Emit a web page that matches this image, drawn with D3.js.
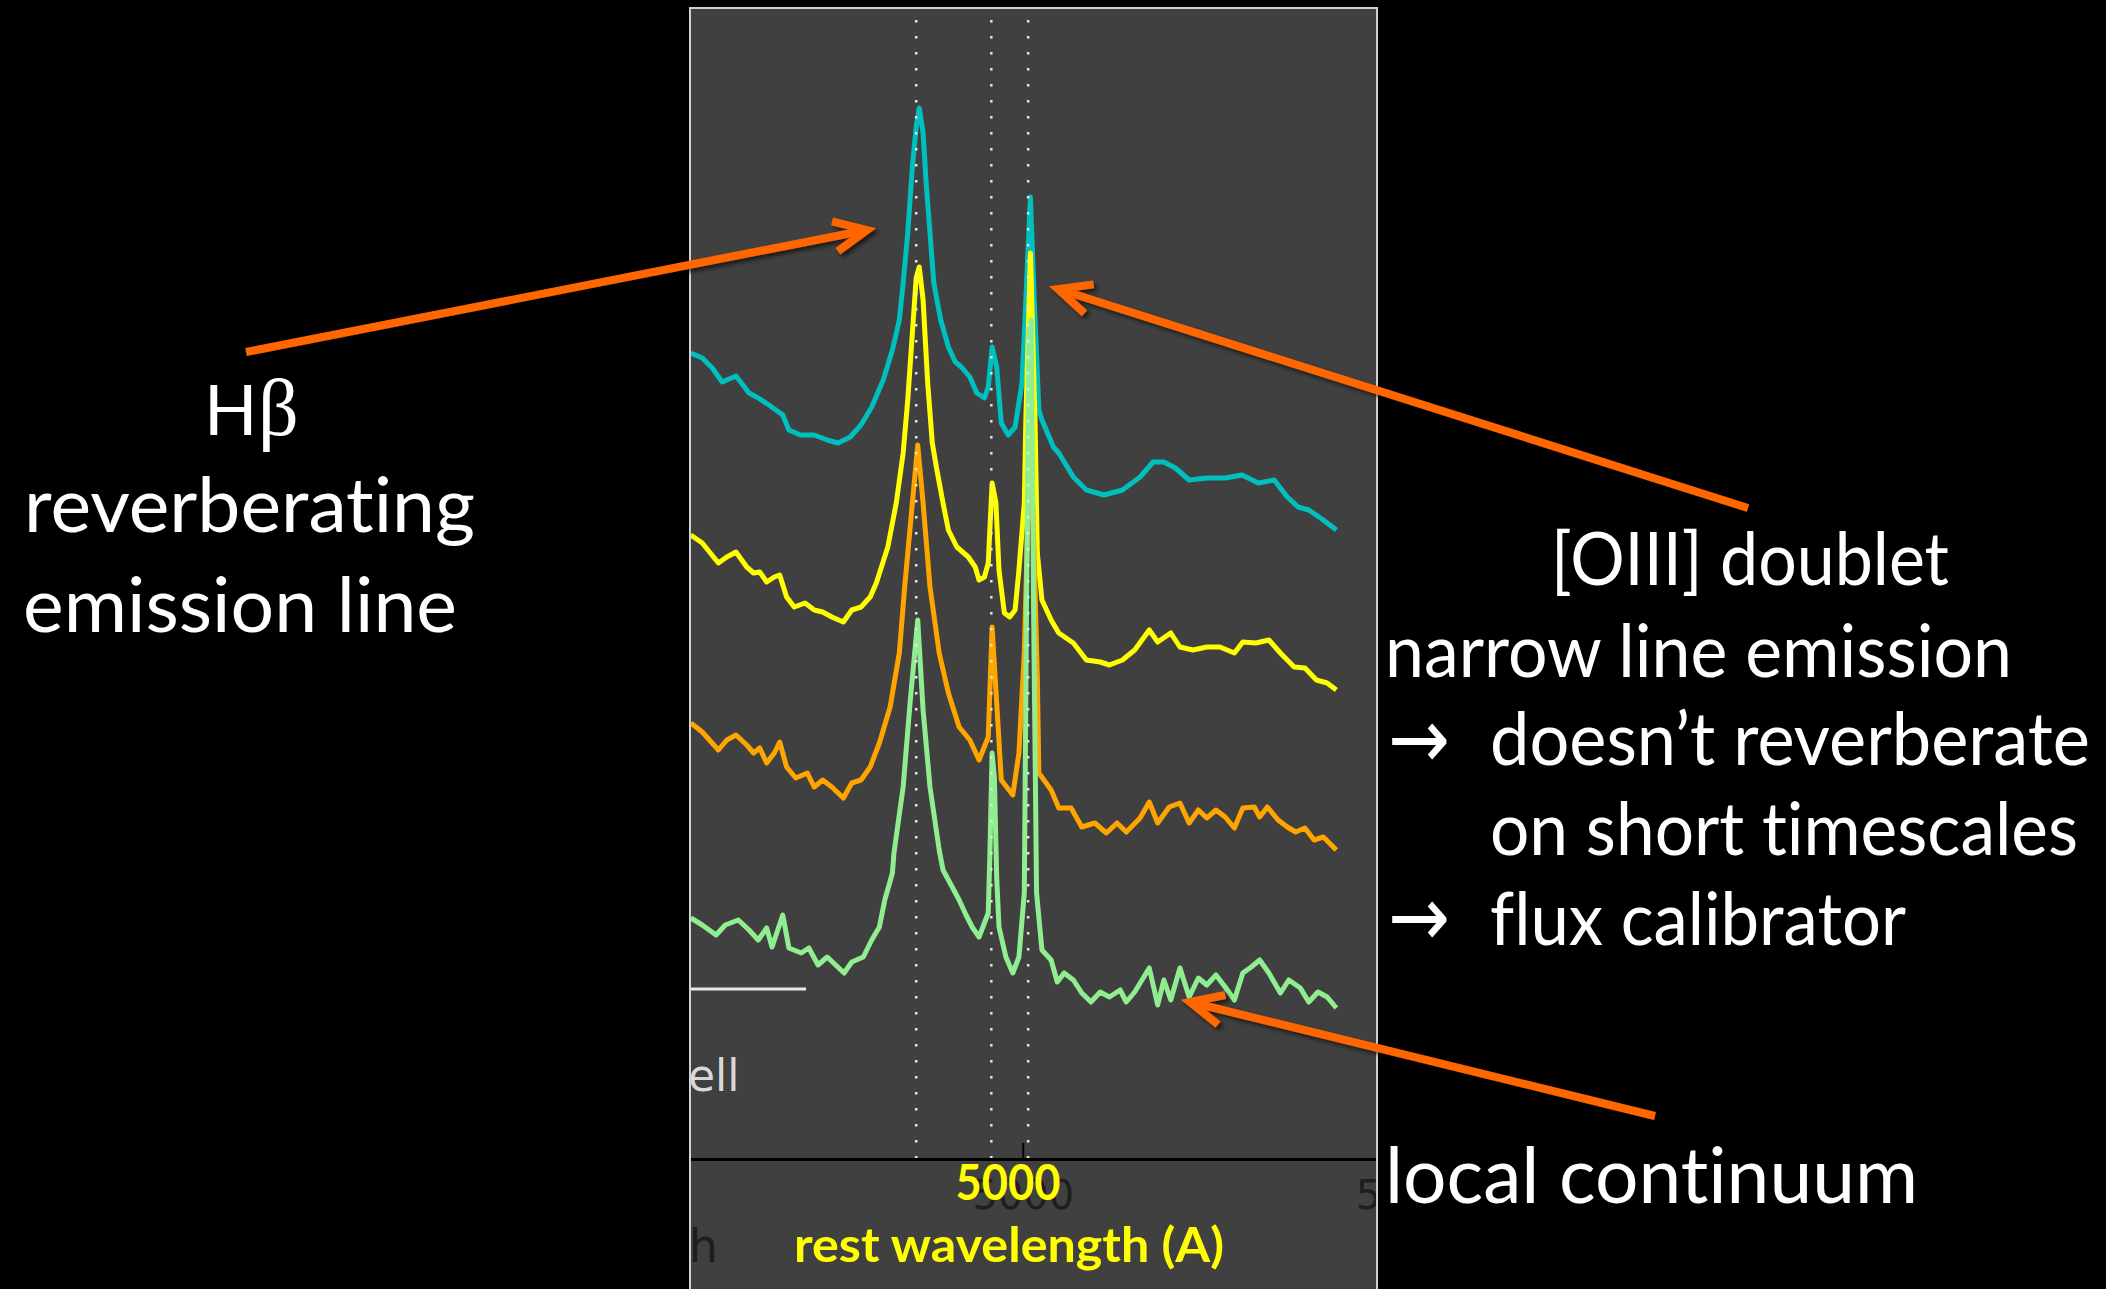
<!DOCTYPE html>
<html>
<head>
<meta charset="utf-8">
<style>
  body { margin: 0; background: #000; }
  svg { display: block; }
  text { font-variant-ligatures: none; }
</style>
</head>
<body>
<svg></svg>
<script src="https://d3js.org/d3.v7.min.js"></script>
<script>
const width = 2106, height = 1289;

// spectra: [rest wavelength (A), flux incl. vertical offset]
const cyanSpec = [
  [4567,80.5],[4582,80.0],[4595,79.0],[4608,77.6],[4626,78.2],[4643,76.5],[4655,76.0],[4669,75.3],
  [4687,74.3],[4695,72.8],[4710,72.3],[4728,72.3],[4745,71.8],[4759,71.5],[4775,72.1],[4789,73.3],
  [4803,75.1],[4818,77.8],[4830,80.8],[4839,83.8],[4844,87.5],[4850,92.5],[4856,99.1],[4861,103.1],
  [4865,105.0],[4870,102.5],[4874,97.5],[4879,92.5],[4884,87.5],[4893,83.8],[4903,81.1],[4912,79.6],
  [4920,79.1],[4931,78.1],[4940,76.5],[4950,76.0],[4955,77.1],[4960,81.1],[4966,79.1],[4972,73.5],
  [4981,72.3],[4990,73.1],[4999,77.5],[5004,85.8],[5010,96.1],[5015,85.8],[5021,74.8],[5025,73.8],
  [5040,71.1],[5047,70.5],[5066,68.1],[5083,66.8],[5106,66.3],[5130,66.8],[5153,68.1],[5170,69.6],
  [5184,69.6],[5199,69.0],[5217,67.8],[5240,68.0],[5264,68.0],[5286,68.3],[5307,67.5],[5328,67.8],
  [5345,66.1],[5359,65.1],[5373,64.8],[5392,63.8],[5409,62.8]
];
const yellowSpec = [
  [4567,62.3],[4582,61.5],[4603,59.5],[4614,60.1],[4626,60.6],[4640,59.1],[4649,58.5],[4657,58.6],
  [4666,57.6],[4676,58.1],[4683,58.3],[4692,56.1],[4702,55.1],[4716,55.5],[4728,54.8],[4739,54.6],
  [4751,54.1],[4766,53.6],[4777,54.8],[4789,55.1],[4801,56.1],[4809,57.5],[4824,61.1],[4835,65.5],
  [4844,70.5],[4850,75.8],[4856,82.5],[4861,88.0],[4865,89.1],[4870,85.8],[4876,77.5],[4882,71.5],
  [4888,68.8],[4896,65.5],[4903,62.8],[4914,61.1],[4929,60.1],[4938,59.1],[4943,57.8],[4950,58.1],
  [4955,59.5],[4960,67.5],[4965,65.5],[4969,58.8],[4976,54.5],[4983,54.1],[4990,54.8],[4995,58.8],
  [5002,65.5],[5004,73.8],[5010,90.5],[5016,73.8],[5019,60.5],[5025,55.8],[5037,53.8],[5047,52.5],
  [5066,51.5],[5083,49.8],[5101,49.6],[5113,49.3],[5130,49.8],[5146,50.8],[5165,52.8],[5176,51.6],
  [5193,52.5],[5205,51.1],[5222,50.8],[5240,51.1],[5257,51.1],[5276,50.5],[5287,51.6],[5304,51.5],
  [5321,51.8],[5336,50.5],[5354,49.1],[5368,49.0],[5383,47.8],[5397,47.5],[5409,46.8]
];
const orangeSpec = [
  [4567,43.5],[4582,42.6],[4603,40.8],[4614,41.8],[4626,42.3],[4640,41.3],[4649,40.5],[4657,41.0],
  [4666,39.5],[4676,40.5],[4683,41.6],[4692,39.1],[4704,38.0],[4719,38.5],[4728,37.1],[4739,37.8],
  [4751,37.1],[4766,36.0],[4777,37.5],[4789,37.8],[4801,39.1],[4813,41.5],[4827,45.1],[4839,50.5],
  [4846,57.1],[4856,65.5],[4863,71.3],[4870,65.5],[4879,57.1],[4891,50.5],[4903,46.5],[4917,43.1],
  [4931,41.8],[4943,39.8],[4955,42.1],[4960,53.1],[4966,45.5],[4972,37.8],[4987,36.3],[4995,40.5],
  [5002,50.5],[5006,62.0],[5010,73.3],[5015,60.0],[5019,48.0],[5021,38.5],[5037,36.8],[5047,35.0],
  [5063,35.0],[5077,33.1],[5094,33.5],[5109,32.5],[5123,33.5],[5135,32.6],[5153,34.0],[5165,35.6],
  [5176,33.5],[5191,35.1],[5205,35.5],[5217,33.5],[5229,34.8],[5240,34.0],[5252,34.8],[5264,34.1],
  [5276,33.0],[5287,35.0],[5302,35.1],[5309,34.1],[5319,35.1],[5333,33.8],[5345,33.1],[5356,32.6],
  [5368,33.0],[5380,31.8],[5392,32.1],[5409,30.8]
];
const greenSpec = [
  [4567,24.0],[4582,23.3],[4600,22.3],[4612,23.3],[4629,23.8],[4643,22.8],[4655,21.8],[4666,23.0],
  [4673,21.1],[4687,24.3],[4695,21.0],[4711,20.5],[4721,21.0],[4733,19.3],[4745,20.1],[4756,19.3],
  [4767,18.5],[4777,19.6],[4792,20.1],[4803,21.8],[4813,23.1],[4820,25.8],[4830,28.5],[4832,30.5],
  [4844,37.1],[4853,45.5],[4863,53.8],[4870,44.8],[4879,37.1],[4891,30.8],[4896,28.8],[4908,27.1],
  [4917,25.8],[4926,24.3],[4934,23.1],[4943,22.1],[4955,24.5],[4957,30.0],[4960,40.5],[4963,38.0],
  [4966,28.0],[4969,23.1],[4978,20.1],[4987,18.5],[4995,20.1],[5002,26.5],[5005,55.8],[5008,82.8],
  [5011,83.8],[5014,55.8],[5018,26.5],[5025,20.8],[5037,19.8],[5045,17.6],[5054,18.5],[5066,17.8],
  [5077,16.5],[5089,15.6],[5101,16.6],[5113,16.1],[5127,16.8],[5135,15.6],[5146,16.6],[5165,19.0],
  [5176,15.3],[5184,17.8],[5193,15.8],[5205,19.0],[5217,16.1],[5229,18.0],[5240,17.3],[5252,18.3],
  [5264,17.1],[5276,15.8],[5287,18.5],[5298,19.1],[5309,19.8],[5321,18.5],[5336,16.5],[5347,17.8],
  [5362,17.0],[5373,15.6],[5385,16.6],[5397,16.1],[5409,15.0]
];
const lineWaves = [4861, 4959, 5007];   // Hbeta, [OIII] 4959, [OIII] 5007
const xTicks = [4500, 5000, 5500];

const svg = d3.select('svg').attr('width', width).attr('height', height);
svg.append('rect').attr('width', width).attr('height', height).attr('fill', '#000');

const x = d3.scaleLinear().domain([4566, 5462]).range([690, 1377]);
const y = d3.scaleLinear().domain([0, 115]).range([1158, 8]);

const defs = svg.append('defs');
defs.append('clipPath').attr('id', 'panelClip')
  .append('rect').attr('x', 690).attr('y', 8).attr('width', 687).attr('height', 1290);
defs.append('filter').attr('id', 'shadow').attr('x', '-10%').attr('y', '-10%').attr('width', '120%').attr('height', '130%')
  .append('feDropShadow').attr('dx', 3).attr('dy', 3).attr('stdDeviation', 2)
  .attr('flood-color', '#000').attr('flood-opacity', 0.6);

// plot panel
const plot = svg.append('g').attr('clip-path', 'url(#panelClip)');
plot.append('rect').attr('x', 690).attr('y', 8).attr('width', 687).attr('height', 1290).attr('fill', '#404040');

// remains of the original legend / axis label
plot.append('line').attr('x1', 690).attr('x2', 806).attr('y1', 989).attr('y2', 989)
  .attr('stroke', '#e8e8e8').attr('stroke-width', 3);
plot.append('text').attr('x', 688).attr('y', 1091).text('ell')
  .attr('font-family', 'DejaVu Sans').attr('font-size', 44).attr('fill', '#d8d8d8');
plot.append('text').attr('x', 718).attr('y', 1262).attr('text-anchor', 'end').text('wavelength')
  .attr('font-family', 'DejaVu Sans').attr('font-size', 46).attr('fill', '#1e1e1e');

const xAxis = d3.axisBottom(x).tickValues(xTicks).tickSizeInner(-16).tickSizeOuter(0)
  .tickPadding(22).tickFormat(d3.format('d'));
const gx = plot.append('g').attr('transform', 'translate(0,1159)').call(xAxis);
gx.select('.domain').attr('stroke', '#000').attr('stroke-width', 3);
gx.selectAll('.tick line').attr('stroke', '#000').attr('stroke-width', 2);
gx.selectAll('.tick text').attr('fill', '#1e1e1e').attr('font-size', 40).attr('font-family', 'DejaVu Sans');

const series = [
  {data: cyanSpec, color: '#00bfbf'},
  {data: yellowSpec, color: '#ffff00'},
  {data: orangeSpec, color: '#ffa500'},
  {data: greenSpec, color: '#90ee90'}
];
const line = d3.line().x(d => x(d[0])).y(d => y(d[1]));
plot.selectAll('.spec').data(series).enter().append('path')
  .attr('class', 'spec')
  .attr('d', d => line(d.data))
  .attr('fill', 'none')
  .attr('stroke', d => d.color)
  .attr('stroke-width', 5)
  .attr('stroke-linejoin', 'round');

plot.selectAll('.restline').data(lineWaves).enter().append('line')
  .attr('class', 'restline')
  .attr('x1', d => x(d)).attr('x2', d => x(d))
  .attr('y1', 20).attr('y2', 1158)
  .attr('stroke', '#e6e6e6').attr('stroke-width', 2.5)
  .attr('stroke-dasharray', '2.5,13.5');

// yellow axis labels
svg.append('text').attr('x', 1008).attr('y', 1200).attr('text-anchor', 'middle').text('5000')
  .attr('font-family', 'Lato').attr('font-weight', 'bold').attr('font-size', 50).attr('fill', '#ffff00')
  .attr('textLength', 105).attr('lengthAdjust', 'spacingAndGlyphs');
svg.append('text').attr('x', 1009).attr('y', 1262).attr('text-anchor', 'middle').text('rest wavelength (A)')
  .attr('font-family', 'Lato').attr('font-weight', 'bold').attr('font-size', 48).attr('fill', '#ffff00')
  .attr('textLength', 430).attr('lengthAdjust', 'spacingAndGlyphs');

svg.append('rect').attr('x', 690).attr('y', 8).attr('width', 687).attr('height', 1290)
  .attr('fill', 'none').attr('stroke', '#d0d0d0').attr('stroke-width', 2);

// annotation text
const labels = [
  {t: 'reverberating', x: 24, y: 532, s: 76, len: 451},
  {t: 'emission line', x: 23, y: 632, s: 76, len: 434},
  {t: '[OIII] doublet', x: 1551, y: 585, s: 74, len: 398},
  {t: 'narrow line emission', x: 1385, y: 677, s: 74, len: 627},
  {t: 'doesn\u2019t reverberate', x: 1490, y: 765, s: 74, len: 600},
  {t: 'on short timescales', x: 1490, y: 855, s: 74, len: 588},
  {t: 'flux calibrator', x: 1490, y: 945, s: 74, len: 416},
  {t: 'local continuum', x: 1385, y: 1203, s: 78, len: 533}
];
svg.selectAll('.label').data(labels).enter().append('text')
  .attr('class', 'label')
  .attr('x', d => d.x).attr('y', d => d.y)
  .attr('font-family', 'Lato').attr('font-size', d => d.s).attr('fill', '#fff')
  .attr('textLength', d => d.len).attr('lengthAdjust', 'spacingAndGlyphs')
  .text(d => d.t);

const hb = svg.append('text').attr('x', 204).attr('y', 435)
  .attr('font-family', 'Lato').attr('font-size', 70).attr('fill', '#fff');
hb.append('tspan').text('H');
hb.append('tspan').attr('x', 258).attr('font-family', 'Liberation Serif').attr('font-size', 80).text('\u03b2');

svg.selectAll('.bullet').data([768, 946]).enter().append('text')
  .attr('class', 'bullet')
  .attr('x', 1388).attr('y', d => d)
  .attr('font-family', 'DejaVu Sans').attr('font-size', 84).attr('fill', '#fff')
  .attr('textLength', 62).attr('lengthAdjust', 'spacingAndGlyphs')
  .text('\u2192');

// orange arrows
const arrows = [
  {x1: 246, y1: 352, x2: 867, y2: 230},
  {x1: 1748, y1: 508, x2: 1058, y2: 289},
  {x1: 1655, y1: 1116, x2: 1190, y2: 1002}
];
const ag = svg.append('g').attr('filter', 'url(#shadow)')
  .attr('stroke', '#ff6600').attr('stroke-width', 8).attr('fill', 'none');
arrows.forEach(a => {
  const ang = Math.atan2(a.y1 - a.y2, a.x1 - a.x2);
  const L = 36, sp = 25 * Math.PI / 180;
  ag.append('line').attr('x1', a.x1).attr('y1', a.y1).attr('x2', a.x2).attr('y2', a.y2);
  ag.append('path')
    .attr('stroke-linejoin', 'miter')
    .attr('d', `M${a.x2 + L * Math.cos(ang + sp)},${a.y2 + L * Math.sin(ang + sp)}` +
               `L${a.x2},${a.y2}` +
               `L${a.x2 + L * Math.cos(ang - sp)},${a.y2 + L * Math.sin(ang - sp)}`);
});
</script>
</body>
</html>
